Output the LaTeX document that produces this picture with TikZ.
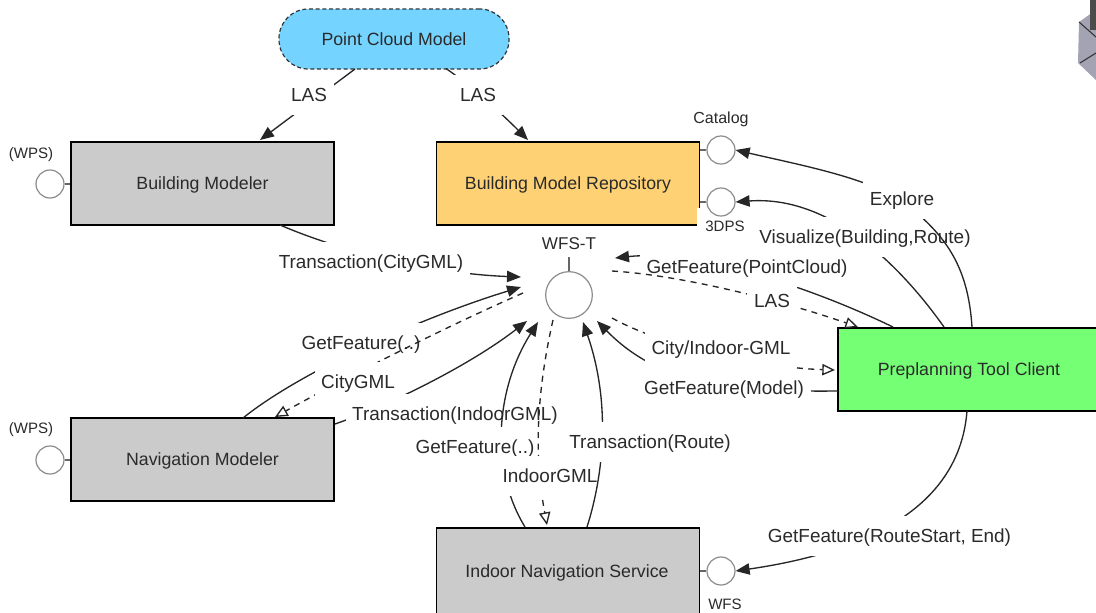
\documentclass[tikz,border=0pt]{standalone}
\usepackage{fontspec}
\setmainfont{Liberation Sans}
\usetikzlibrary{arrows.meta}
\definecolor{txt}{HTML}{2A2A2A}
\definecolor{cloud}{HTML}{75D4FF}
\definecolor{grayb}{HTML}{CBCBCB}
\definecolor{repo}{HTML}{FFD175}
\definecolor{client}{HTML}{75FF75}
\definecolor{artA}{HTML}{A3A3B3}
\tikzset{
  boxfont/.style={text=txt,font=\fontsize{13.3}{15}\selectfont,text height=12pt,text depth=2.4pt},
  boxnode/.style={draw=black,line width=1pt,minimum width=197.25pt,minimum height=62.25pt,inner sep=0pt,boxfont},
  ifc/.style={circle,draw=black!45,fill=white,line width=.9pt,inner sep=0pt,minimum size=21pt},
  stem/.style={draw=black!60,line width=.8pt},
  lab/.style={fill=white,inner xsep=5pt,inner ysep=0pt,minimum height=30pt,text=txt,font=\fontsize{14.2}{16}\selectfont,text height=12.3pt,text depth=2pt},
  small/.style={inner sep=0pt,text=txt,font=\fontsize{12}{14}\selectfont,text height=10.7pt,text depth=2pt},
  tiny/.style={small,font=\fontsize{11.3}{14}\selectfont},
  smallw/.style={tiny,fill=white,minimum width=42pt,minimum height=27pt},
  conn/.style={draw=black!85,line width=1pt,-{Triangle[length=10.5pt,width=8.5pt]}},
  dconn/.style={draw=black!85,line width=1pt,dash pattern=on 4.5pt off 4pt,-{Triangle[open,length=9.5pt,width=8.5pt,fill=white]}}
}
\begin{document}
\begin{tikzpicture}[x=0.75pt,y=-0.75pt]
\clip (0,0) rectangle (1096,612);
\fill[white] (0,0) rectangle (1096,612);
% corner fragment
\fill[artA] (1096,10) -- (1079,22) -- (1078,63) -- (1096,80) -- cycle;
\fill[black!70] (1090,0) rectangle (1096,30);
\draw[black!80,line width=.8pt] (1079,22) -- (1096,37) (1080,63) -- (1096,53);
% boxes
\node[boxnode,fill=cloud,minimum width=172.5pt,minimum height=45pt,rounded corners=22pt,line width=.9pt,draw=black!80,dash pattern=on 3pt off 2pt] (pcm) at (394,39) {Point Cloud Model};
\node[boxnode,fill=grayb] (bm) at (202.5,183.5) {Building Modeler};
\node[boxnode,fill=repo] (bmr) at (568,183.5) {Building Model Repository};
\node[boxnode,fill=grayb] (nm) at (202.5,459.5) {Navigation Modeler};
\node[boxnode,fill=grayb,minimum height=78pt] (ins) at (568,580) {};
\node[boxfont,inner sep=0pt] (insT) at (567,571) {Indoor Navigation Service};
\node[boxnode,fill=client,minimum width=196.5pt] (cl) at (969,369.5) {};
\node[boxfont,inner sep=0pt] (clT) at (969,369) {Preplanning Tool Client};
% interfaces
\node[smallw] (dpsL) at (725,226) {3DPS};
\node[ifc] (cat) at (721,150) {};
\node[ifc] (dps) at (721,202) {};
\node[ifc] (wfs) at (721,571) {};
\node[ifc] (wpsA) at (50,184) {};
\node[ifc] (wpsB) at (50,460) {};
\node[ifc,minimum size=35pt] (wfsT) at (569,295) {};
\node[small] (catL) at (721,118) {Catalog};
\node[tiny] (wfsL) at (725,604) {WFS};
\node[tiny] (wpsAL) at (31,153) {(WPS)};
\node[tiny] (wpsBL) at (31,428) {(WPS)};
\node[small,font=\fontsize{12.8}{14}\selectfont] (wfsTL) at (569,244) {WFS-T};
\draw[stem] (cat.west) -- (bmr.east |- cat.west);
\draw[stem] (dps.west) -- (bmr.east |- dps.west);
\draw[stem] (wfs.west) -- (ins.east |- wfs.west);
\draw[stem] (wpsA.east) -- (bm.west |- wpsA.east);
\draw[stem] (wpsB.east) -- (nm.west |- wpsB.east);
\draw[stem] (wfsT.north) -- ++(0,-14);
% connectors
\draw[conn] ([shift={(-39,30)}]pcm.center) -- ([shift={(57.5,-43.5)}]bm.center);
\node[lab] (l1) at (309,95) {LAS};
\draw[conn] ([shift={(52,29.5)}]pcm.center) .. controls (470,85) and (500,112) .. ([shift={(-40,-43.5)}]bmr.center);
\node[lab] (l2) at (478,95) {LAS};
\draw[conn] ([shift={(77.5,41.5)}]bm.center) .. controls (350,255) and (440,274) .. ([shift={(-48,-18)}]wfsT.center);
\node[lab] (l3) at (371,262) {Transaction(CityGML)};
\draw[conn] ([shift={(40.5,-41.5)}]nm.center) .. controls (300,372) and (420,318) .. ([shift={(-48,-8)}]wfsT.center);
\node[lab] (l4) at (361,343) {GetFeature(..)};
\draw[dconn] ([shift={(-46,-2)}]wfsT.center) .. controls (450,325) and (350,375) .. ([shift={(72.5,-42.5)}]nm.center);
\node[lab] (l5) at (358,382) {CityGML};
\draw[conn] ([shift={(132.5,-35.5)}]nm.center) .. controls (390,405) and (470,365) .. ([shift={(-42,26)}]wfsT.center);
\node[lab] (l6) at (455,414) {Transaction(IndoorGML)};
\draw[conn] ([shift={(-43,-53)}]ins.center) .. controls (490,470) and (495,390) .. ([shift={(-31,27)}]wfsT.center);
\node[lab] (l7) at (475,447) {GetFeature(..)};
\draw[dconn] ([shift={(-16,25)}]wfsT.center) .. controls (535,400) and (535,460) .. ([shift={(-21,-55)}]ins.center);
\node[lab,inner xsep=5pt] (l8) at (550,476) {IndoorGML};
\draw[conn] ([shift={(19,-53)}]ins.center) .. controls (605,470) and (610,400) .. ([shift={(14,27)}]wfsT.center);
\node[lab] (l9) at (650,442) {Transaction(Route)};
\draw[conn] ([shift={(-131,21.5)}]cl.center) .. controls (730,392) and (660,385) .. ([shift={(28,26)}]wfsT.center);
\node[lab] (l10) at (724,388) {GetFeature(Model)};
\draw[dconn] ([shift={(43,23)}]wfsT.center) .. controls (670,350) and (770,368) .. ([shift={(-134,0.5)}]cl.center);
\node[lab] (l11) at (721,348) {City/Indoor-GML};
\draw[conn] ([shift={(-76,-42.5)}]cl.center) .. controls (800,282) and (690,250) .. ([shift={(46,-37)}]wfsT.center);
\node[lab] (l12) at (747,267) {GetFeature(PointCloud)};
\draw[dconn] ([shift={(43,-24)}]wfsT.center) .. controls (680,275) and (780,300) .. ([shift={(-111,-42.5)}]cl.center);
\node[lab] (l13) at (772,301) {LAS};
\draw[conn] ([shift={(-25,-42.5)}]cl.center) .. controls (900,265) and (830,195) .. (dps.east);
\node[lab] (l14) at (865,237) {Visualize(Building,Route)};
\draw[conn] ([shift={(3,-42.5)}]cl.center) .. controls (968,265) and (945,235) .. (905,203) .. controls (870,178) and (800,165) .. (cat.east);
\node[lab] (l15) at (902,199) {Explore};
\draw[conn] ([shift={(-2,41.5)}]cl.center) .. controls (960,500) and (880,550) .. (wfs.east);
\node[lab] (l16) at (889.5,536) {GetFeature(RouteStart, End)};
\end{tikzpicture}
\end{document}
